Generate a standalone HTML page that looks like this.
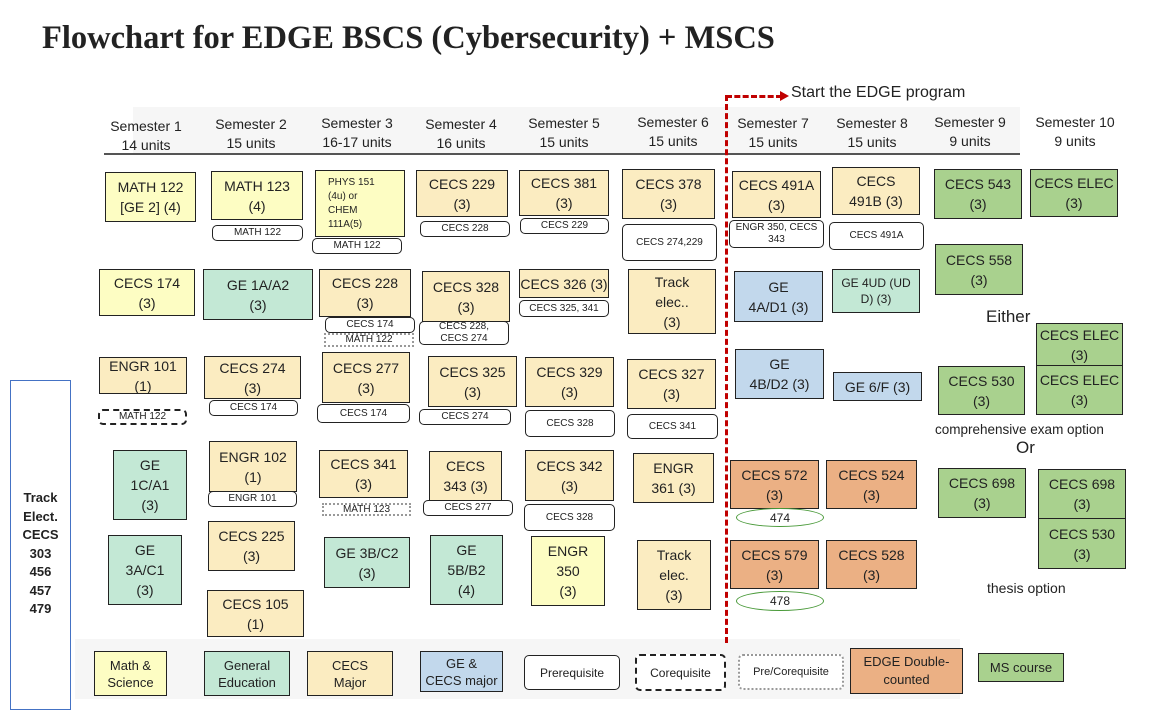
<!DOCTYPE html>
<html><head><meta charset="utf-8"><style>
body{margin:0;width:1175px;height:704px;background:#fff;position:relative;overflow:hidden;font-family:"Liberation Sans",sans-serif;color:#222}
div{position:absolute;box-sizing:border-box}
.b{border:1px solid #222;display:flex;align-items:center;justify-content:center;text-align:center;font-size:14px;line-height:20px}
.y{background:#fdfdc3}.g{background:#c3e8d5}.t{background:#fbecc1}.bl{background:#c2d8ec}.o{background:#ebb084}.m{background:#a9d18e}
.p{border:1px solid #222;border-radius:5px;background:#fff;display:flex;align-items:center;justify-content:center;text-align:center;font-size:10px;line-height:12px}
.d{border-style:dashed;border-width:2px}.dt{border:2px dotted #999}
.h{font-size:14px;text-align:center;width:110px;line-height:19px}
.e{border:1px solid #4a9a3a;border-radius:50%;display:flex;align-items:center;justify-content:center;font-size:12px;background:#fff}
.s{font-size:13px}
</style></head><body>
<div style="left:42px;top:20px;font-family:'Liberation Serif',serif;font-weight:bold;font-size:32.5px;white-space:nowrap">Flowchart for EDGE BSCS (Cybersecurity) + MSCS</div>
<div style="left:133px;top:107px;width:887px;height:48px;background:#f6f6f6"></div>
<div style="left:104px;top:153px;width:916px;height:2px;background:#555"></div>
<div style="left:75px;top:639px;width:885px;height:60px;background:#f6f6f6"></div>
<div class="h" style="left:91px;top:117px">Semester 1<br>14 units</div>
<div class="h" style="left:196px;top:115px">Semester 2<br>15 units</div>
<div class="h" style="left:302px;top:114px">Semester 3<br>16-17 units</div>
<div class="h" style="left:406px;top:115px">Semester 4<br>16 units</div>
<div class="h" style="left:509px;top:114px">Semester 5<br>15 units</div>
<div class="h" style="left:618px;top:113px">Semester 6<br>15 units</div>
<div class="h" style="left:718px;top:114px">Semester 7<br>15 units</div>
<div class="h" style="left:817px;top:114px">Semester 8<br>15 units</div>
<div class="h" style="left:915px;top:113px">Semester 9<br>9 units</div>
<div class="h" style="left:1020px;top:113px">Semester 10<br>9 units</div>
<div style="left:725px;top:95px;width:0;height:548px;border-left:3px dashed #c00000"></div>
<div style="left:726px;top:95px;width:56px;height:0;border-top:3px dashed #c00000"></div>
<div style="left:780px;top:91px;width:0;height:0;border-left:9px solid #c00000;border-top:5px solid transparent;border-bottom:5px solid transparent"></div>
<div style="left:791px;top:84px;font-size:16px;white-space:nowrap">Start the EDGE program</div>
<div style="left:10px;top:380px;width:61px;height:330px;border:1px solid #4472c4"></div>
<div style="left:10px;top:489px;width:61px;text-align:center;font-weight:bold;font-size:13px;line-height:18.5px">Track<br>Elect.<br>CECS<br>303<br>456<br>457<br>479</div>
<div class="b y" style="left:105px;top:172px;width:91px;height:50px">MATH 122<br>[GE 2] (4)</div>
<div class="b y" style="left:99px;top:269px;width:96px;height:47px">CECS 174<br>(3)</div>
<div class="b t" style="left:99px;top:357px;width:88px;height:37px">ENGR 101<br>(1)</div>
<div class="p d" style="left:98px;top:409px;width:89px;height:16px">MATH 122</div>
<div class="b g" style="left:113px;top:450px;width:74px;height:70px">GE<br>1C/A1<br>(3)</div>
<div class="b g" style="left:108px;top:535px;width:74px;height:70px">GE<br>3A/C1<br>(3)</div>
<div class="b y" style="left:211px;top:171px;width:92px;height:49px">MATH 123<br>(4)</div>
<div class="p" style="left:212px;top:225px;width:91px;height:16px">MATH 122</div>
<div class="b g" style="left:203px;top:269px;width:110px;height:51px">GE 1A/A2<br>(3)</div>
<div class="b t" style="left:204px;top:356px;width:97px;height:43px">CECS 274<br>(3)</div>
<div class="p" style="left:209px;top:400px;width:89px;height:16px">CECS 174</div>
<div class="b t" style="left:209px;top:441px;width:88px;height:51px">ENGR 102<br>(1)</div>
<div class="p" style="left:208px;top:491px;width:89px;height:16px">ENGR 101</div>
<div class="b t" style="left:208px;top:521px;width:87px;height:50px">CECS 225<br>(3)</div>
<div class="b t" style="left:207px;top:590px;width:97px;height:47px">CECS 105<br>(1)</div>
<div class="b y" style="left:315px;top:170px;width:90px;height:67px;justify-content:flex-start;text-align:left;padding-left:12px;font-size:10px;line-height:14px">PHYS 151<br>(4u) or<br>CHEM<br>111A(5)</div>
<div class="p" style="left:312px;top:238px;width:90px;height:16px">MATH 122</div>
<div class="b t" style="left:319px;top:269px;width:92px;height:48px">CECS 228<br>(3)</div>
<div class="p" style="left:325px;top:317px;width:90px;height:16px">CECS 174</div>
<div class="p dt" style="left:324px;top:333px;width:90px;height:14px;border-radius:0">MATH 122</div>
<div class="b t" style="left:322px;top:352px;width:88px;height:51px">CECS 277<br>(3)</div>
<div class="p" style="left:317px;top:404px;width:93px;height:19px">CECS 174</div>
<div class="b t" style="left:319px;top:450px;width:89px;height:48px">CECS 341<br>(3)</div>
<div class="p dt" style="left:322px;top:503px;width:89px;height:13px;border-radius:0">MATH 123</div>
<div class="b g" style="left:324px;top:537px;width:86px;height:51px">GE 3B/C2<br>(3)</div>
<div class="b t" style="left:416px;top:170px;width:92px;height:47px">CECS 229<br>(3)</div>
<div class="p" style="left:420px;top:221px;width:90px;height:16px">CECS 228</div>
<div class="b t" style="left:422px;top:271px;width:88px;height:51px">CECS 328<br>(3)</div>
<div class="p" style="left:419px;top:321px;width:90px;height:24px">CECS 228,<br>CECS 274</div>
<div class="b t" style="left:428px;top:356px;width:89px;height:51px">CECS 325<br>(3)</div>
<div class="p" style="left:419px;top:409px;width:92px;height:16px">CECS 274</div>
<div class="b t" style="left:429px;top:451px;width:73px;height:50px">CECS<br>343 (3)</div>
<div class="p" style="left:423px;top:500px;width:90px;height:16px">CECS 277</div>
<div class="b g" style="left:430px;top:535px;width:73px;height:70px">GE<br>5B/B2<br>(4)</div>
<div class="b t" style="left:519px;top:170px;width:90px;height:46px">CECS 381<br>(3)</div>
<div class="p" style="left:520px;top:218px;width:89px;height:16px">CECS 229</div>
<div class="b t" style="left:519px;top:269px;width:90px;height:29px">CECS 326 (3)</div>
<div class="p" style="left:519px;top:300px;width:90px;height:17px">CECS 325, 341</div>
<div class="b t" style="left:525px;top:357px;width:89px;height:50px">CECS 329<br>(3)</div>
<div class="p" style="left:525px;top:410px;width:90px;height:27px">CECS 328</div>
<div class="b t" style="left:525px;top:450px;width:89px;height:51px">CECS 342<br>(3)</div>
<div class="p" style="left:524px;top:504px;width:91px;height:27px">CECS 328</div>
<div class="b y" style="left:531px;top:536px;width:74px;height:70px">ENGR<br>350<br>(3)</div>
<div class="b t" style="left:622px;top:169px;width:93px;height:50px">CECS 378<br>(3)</div>
<div class="p" style="left:622px;top:224px;width:95px;height:37px">CECS 274,229</div>
<div class="b t" style="left:628px;top:269px;width:88px;height:65px">Track<br>elec..<br>(3)</div>
<div class="b t" style="left:627px;top:359px;width:89px;height:50px">CECS 327<br>(3)</div>
<div class="p" style="left:627px;top:414px;width:91px;height:25px">CECS 341</div>
<div class="b t" style="left:633px;top:453px;width:81px;height:50px">ENGR<br>361 (3)</div>
<div class="b t" style="left:637px;top:540px;width:74px;height:70px">Track<br>elec.<br>(3)</div>
<div class="b t" style="left:732px;top:171px;width:89px;height:47px">CECS 491A<br>(3)</div>
<div class="p" style="left:729px;top:220px;width:95px;height:28px">ENGR 350, CECS<br>343</div>
<div class="b bl" style="left:734px;top:271px;width:89px;height:51px">GE<br>4A/D1 (3)</div>
<div class="b bl" style="left:735px;top:349px;width:89px;height:50px">GE<br>4B/D2 (3)</div>
<div class="b o" style="left:730px;top:460px;width:89px;height:49px">CECS 572<br>(3)</div>
<div class="e" style="left:736px;top:508px;width:88px;height:19px">474</div>
<div class="b o" style="left:730px;top:540px;width:89px;height:49px">CECS 579<br>(3)</div>
<div class="e" style="left:736px;top:591px;width:88px;height:20px">478</div>
<div class="b t" style="left:832px;top:167px;width:88px;height:48px">CECS<br>491B (3)</div>
<div class="p" style="left:829px;top:222px;width:95px;height:28px">CECS 491A</div>
<div class="b g" style="left:832px;top:269px;width:88px;height:44px;font-size:12px;line-height:16px">GE 4UD (UD<br>D) (3)</div>
<div class="b bl" style="left:833px;top:372px;width:89px;height:29px">GE 6/F (3)</div>
<div class="b o" style="left:826px;top:460px;width:91px;height:49px">CECS 524<br>(3)</div>
<div class="b o" style="left:826px;top:540px;width:91px;height:49px">CECS 528<br>(3)</div>
<div class="b m" style="left:934px;top:169px;width:88px;height:50px">CECS 543<br>(3)</div>
<div class="b m" style="left:935px;top:244px;width:88px;height:51px">CECS 558<br>(3)</div>
<div style="left:986px;top:307px;font-size:17px">Either</div>
<div class="b m" style="left:938px;top:366px;width:87px;height:49px">CECS 530<br>(3)</div>
<div style="left:935px;top:422px;font-size:13.5px;white-space:nowrap">comprehensive exam option</div>
<div style="left:1016px;top:438px;font-size:17px">Or</div>
<div class="b m" style="left:938px;top:468px;width:88px;height:50px">CECS 698<br>(3)</div>
<div style="left:987px;top:580px;font-size:14px">thesis option</div>
<div class="b m" style="left:1030px;top:169px;width:88px;height:48px">CECS ELEC<br>(3)</div>
<div class="b m" style="left:1036px;top:323px;width:87px;height:43px">CECS ELEC<br>(3)</div>
<div class="b m" style="left:1036px;top:365px;width:87px;height:50px">CECS ELEC<br>(3)</div>
<div class="b m" style="left:1038px;top:469px;width:88px;height:50px">CECS 698<br>(3)</div>
<div class="b m" style="left:1038px;top:518px;width:88px;height:51px">CECS 530<br>(3)</div>
<div class="b y s" style="left:94px;top:651px;width:73px;height:45px;line-height:17px">Math &amp;<br>Science</div>
<div class="b g s" style="left:204px;top:651px;width:86px;height:45px;line-height:17px">General<br>Education</div>
<div class="b t s" style="left:307px;top:651px;width:86px;height:45px;line-height:17px">CECS<br>Major</div>
<div class="b bl s" style="left:420px;top:651px;width:83px;height:41px;line-height:17px">GE &amp;<br>CECS major</div>
<div class="p" style="left:524px;top:655px;width:96px;height:35px;font-size:12px">Prerequisite</div>
<div class="p d" style="left:635px;top:654px;width:91px;height:37px;font-size:12px">Corequisite</div>
<div class="p dt" style="left:738px;top:654px;width:106px;height:36px;font-size:11px">Pre/Corequisite</div>
<div class="b o s" style="left:850px;top:648px;width:113px;height:46px;line-height:18px">EDGE Double-<br>counted</div>
<div class="b m s" style="left:978px;top:653px;width:86px;height:29px">MS course</div>
</body></html>
